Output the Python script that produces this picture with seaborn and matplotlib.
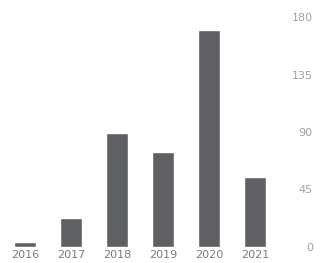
import matplotlib
matplotlib.use("Agg")
import matplotlib.pyplot as plt
import seaborn as sns
import pandas as pd

years = ["2016", "2017", "2018", "2019", "2020", "2021"]
values = [4, 23, 89, 74, 170, 55]
yticks = [0, 45, 90, 135, 180]

sns.set_theme(style="white")
plt.rcParams["font.family"] = ["DejaVu Sans"]

df = pd.DataFrame({"year": years, "value": values})

fig = plt.figure(figsize=(3.26, 2.63), dpi=100)
ax = fig.add_axes([0.006, 0.061, 0.847, 0.874])
sns.barplot(data=df, x="year", y="value", color="#5e6064", saturation=1,
            width=0.46, ax=ax)

ax.set_ylim(0, 180)
ax.set_yticks(yticks)
ax.set_xlim(-0.5, len(years) - 0.5)
ax.yaxis.tick_right()
ax.tick_params(axis="y", length=0, pad=25, labelsize=8, labelcolor="#a0a0a0")
for lab in ax.get_yticklabels():
    lab.set_horizontalalignment("right")
ax.tick_params(axis="x", length=0, pad=2, labelsize=8, labelcolor="#7a7a7a")
ax.set_xlabel("")
ax.set_ylabel("")
for s in ax.spines.values():
    s.set_visible(False)

fig.savefig("out.png", dpi=100)
